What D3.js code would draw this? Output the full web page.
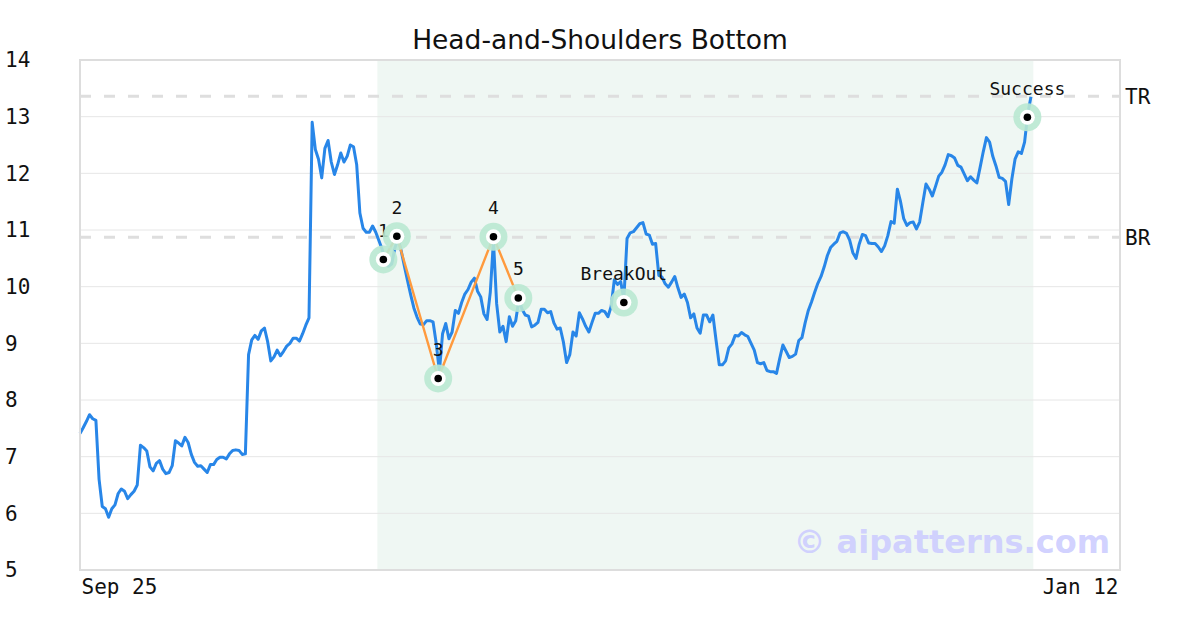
<!DOCTYPE html>
<html><head><meta charset="utf-8">
<script src="https://cdn.jsdelivr.net/npm/d3@7"></script>
<style>
html,body{margin:0;padding:0;background:#fff;}
svg text{font-family:"DejaVu Sans Mono",monospace;}
</style></head>
<body><svg id="chart" width="1200" height="630"></svg>
<script>
// ---- data ----
const title = "Head-and-Shoulders Bottom";
const startDate = "2024-09-25 00:00";
const endDate = "2025-01-12 00:00";
const stepHours = 8;
const prices = [
7.41,7.51,7.62,7.74,7.67,7.64,6.60,6.12,6.08,5.93,
6.08,6.15,6.35,6.43,6.39,6.26,6.33,6.39,6.50,7.20,
7.16,7.10,6.82,6.75,6.88,6.93,6.78,6.70,6.72,6.84,
7.28,7.24,7.19,7.34,7.25,7.04,6.90,6.83,6.84,6.78,
6.72,6.86,6.86,6.95,6.99,6.99,6.96,7.05,7.11,7.12,
7.11,7.04,7.05,8.80,9.06,9.14,9.07,9.22,9.27,9.03,
8.69,8.76,8.88,8.78,8.86,8.95,9.00,9.09,9.09,9.04,
9.17,9.32,9.45,12.90,12.42,12.25,11.92,12.44,12.58,12.20,
11.98,12.15,12.36,12.20,12.30,12.50,12.47,12.15,11.30,11.03,
10.96,10.96,11.07,10.96,10.81,10.66,10.40,10.36,10.40,10.68,
10.85,10.63,10.36,10.10,9.85,9.62,9.46,9.34,9.33,9.40,
9.40,9.38,9.00,8.50,9.17,9.35,9.08,9.20,9.58,9.53,
9.72,9.87,9.95,10.08,10.15,9.92,9.82,9.52,9.42,9.90,
10.81,9.70,9.20,9.30,9.03,9.47,9.30,9.40,9.77,9.60,
9.50,9.48,9.29,9.32,9.37,9.60,9.60,9.54,9.56,9.36,
9.25,9.27,9.02,8.66,8.80,9.20,9.13,9.54,9.43,9.30,
9.20,9.37,9.53,9.53,9.58,9.56,9.47,9.65,10.12,10.04,
10.09,9.78,10.85,10.95,10.97,11.04,11.11,11.13,10.93,10.91,
10.75,10.76,10.20,10.17,10.05,9.99,10.08,10.18,9.98,9.81,
9.87,9.72,9.45,9.52,9.27,9.18,9.50,9.50,9.38,9.50,
9.05,8.62,8.62,8.69,8.92,8.99,9.14,9.13,9.19,9.15,
9.12,9.00,8.88,8.66,8.64,8.66,8.52,8.50,8.50,8.47,
8.73,8.97,8.86,8.75,8.77,8.81,9.05,9.10,9.36,9.58,
9.73,9.90,10.06,10.18,10.35,10.55,10.69,10.75,10.80,10.95,
10.97,10.94,10.82,10.60,10.50,10.75,10.92,10.90,10.77,10.76,
10.76,10.70,10.62,10.72,10.90,11.15,11.12,11.72,11.50,11.20,
11.08,11.13,11.14,11.02,11.14,11.48,11.81,11.72,11.60,11.77,
11.95,12.02,12.15,12.33,12.31,12.27,12.14,12.11,11.99,11.87,
11.94,11.88,11.83,12.10,12.38,12.63,12.55,12.30,12.13,11.93,
11.91,11.86,11.45,11.90,12.25,12.38,12.35,12.55,13.05,13.35
];
const yTicks = [5,6,7,8,9,10,11,12,13,14];
const xTickLabels = ["Sep 25", "Jan 12"];
const patternLabels = ["1","2","3","4","5"];
const patternDates = ["2024-10-26 19:00","2024-10-28 05:00","2024-11-01 13:00","2024-11-07 08:00","2024-11-09 22:30"];
const patternValues = [10.48,10.89,8.38,10.88,9.80];
const eventLabels = ["BreakOut","Success"];
const eventDates = ["2024-11-21 00:00","2025-01-02 07:00"];
const eventValues = [9.72,12.99];
const levelNames = ["TR","BR"];
const levelValues = [13.36,10.87];
const shadeRange = ["2024-10-26 04:00","2025-01-02 22:00"];
const watermark = "© aipatterns.com";

// ---- chart ----
const parse = d3.timeParse("%Y-%m-%d %H:%M");
const t0 = parse(startDate), t1 = parse(endDate);
const series = prices.map((v,i)=>({date:d3.timeHour.offset(t0,i*stepHours), value:v}));
const pattern = patternLabels.map((l,i)=>({label:l, date:parse(patternDates[i]), value:patternValues[i]}));
const events = eventLabels.map((l,i)=>({label:l, date:parse(eventDates[i]), value:eventValues[i]}));

const L=80,R=1120,T=60,B=570;
const svg = d3.select("#chart");
const x = d3.scaleTime().domain([t0,t1]).range([L,R]);
const y = d3.scaleLinear().domain([5,14]).range([B,T]);

// title
svg.append("text").attr("x",600).attr("y",49).attr("text-anchor","middle")
  .style("font-family","'DejaVu Sans',sans-serif").style("font-size","26.5px").attr("fill","#111").text(title);

// shaded region
svg.append("rect").attr("x",x(parse(shadeRange[0]))).attr("y",T)
  .attr("width",x(parse(shadeRange[1]))-x(parse(shadeRange[0]))).attr("height",B-T).attr("fill","#eff7f3");

// grid
svg.append("g").selectAll("line").data(yTicks).join("line")
  .attr("x1",L).attr("x2",R).attr("y1",d=>y(d)).attr("y2",d=>y(d))
  .attr("stroke","#e6e6e6").attr("stroke-width",1);

// y labels
const yAxis = svg.append("g").attr("transform","translate(5,0)")
  .call(d3.axisLeft(y).tickValues(yTicks).tickSize(0).tickFormat(d3.format("d")));
yAxis.select(".domain").remove();
yAxis.selectAll("text").attr("x",0).attr("text-anchor","start")
  .style("font-family","'DejaVu Sans Mono',monospace").style("font-size","21px").attr("fill","#111");

// x labels
const xAxis = svg.append("g").attr("transform",`translate(0,${B+6})`)
  .call(d3.axisBottom(x).tickValues([t0,t1]).tickSize(0).tickFormat((d,i)=>xTickLabels[i]));
xAxis.select(".domain").remove();
xAxis.selectAll("text").attr("text-anchor",(d,i)=>i===0?"start":"end").attr("dx",(d,i)=>i===0?1:-2)
  .style("font-family","'DejaVu Sans Mono',monospace").style("font-size","21px").attr("fill","#111");

// level lines
svg.append("g").selectAll("line").data(levelValues).join("line")
  .attr("x1",L).attr("x2",R).attr("y1",d=>y(d)).attr("y2",d=>y(d))
  .attr("stroke","#dedede").attr("stroke-width",3).attr("stroke-dasharray","11,13");
svg.append("g").selectAll("text").data(levelNames).join("text")
  .attr("x",R+5).attr("y",(d,i)=>y(levelValues[i])).attr("dy","0.35em")
  .style("font-size","21px").attr("fill","#111").text(d=>d);

// watermark
svg.append("text").attr("x",1110).attr("y",553).attr("text-anchor","end")
  .style("font-family","'DejaVu Sans',sans-serif").style("font-weight","bold").style("font-size","32px")
  .attr("fill","#ccccff").attr("fill-opacity",0.9).text(watermark);

// price line
svg.append("path").datum(series)
  .attr("d",d3.line().x(d=>x(d.date)).y(d=>y(d.value)))
  .attr("fill","none").attr("stroke","#2886e8").attr("stroke-width",3).attr("stroke-linejoin","round");

// pattern lines
svg.append("path").datum(pattern)
  .attr("d",d3.line().x(d=>x(d.date)).y(d=>y(d.value)))
  .attr("fill","none").attr("stroke","#ff9a3d").attr("stroke-width",2.4);

// markers
const marks = pattern.concat(events);
const mg = svg.append("g").selectAll("g").data(marks).join("g")
  .attr("transform",d=>`translate(${x(d.date)},${y(d.value)})`);
mg.append("circle").attr("r",14).attr("fill","#b9e8d2").attr("fill-opacity",0.9);
mg.append("circle").attr("r",7.5).attr("fill","#fff");
mg.append("circle").attr("r",3.8).attr("fill","#000");
mg.append("text").attr("y",-29).attr("dy","0.35em").attr("text-anchor","middle")
  .style("font-size","18px").attr("fill","#111").text(d=>d.label);

// frame
svg.append("rect").attr("x",L).attr("y",T).attr("width",R-L).attr("height",B-T)
  .attr("fill","none").attr("stroke","#dddddd").attr("stroke-width",2);
</script></body></html>
